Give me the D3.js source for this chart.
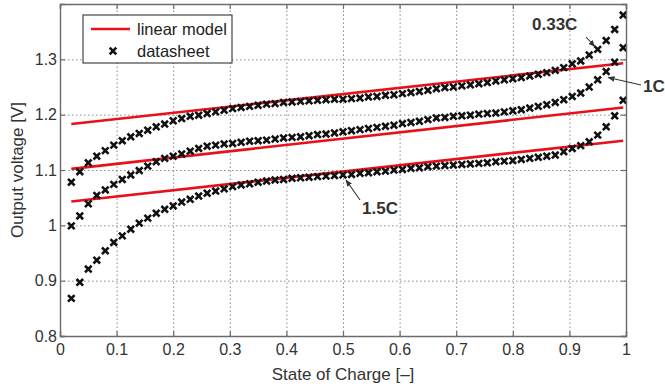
<!DOCTYPE html>
<html>
<head>
<meta charset="utf-8">
<script src="https://cdn.jsdelivr.net/npm/d3@7"></script>
<style>
  body { margin: 0; background: #fff; }
  text { font-family: "Liberation Sans", Arial, Helvetica, sans-serif; }
</style>
</head>
<body>
<div id="chart"></div>
<script>
const WIDTH = 665;
const HEIGHT = 388;
const margin = { top: 4, right: 39, bottom: 52, left: 60 };

// state of charge of each datasheet sample
const soc = [
  0.02, 0.035, 0.05, 0.065, 0.08, 0.095, 0.11, 0.125, 0.14, 0.155,
  0.17, 0.185, 0.2, 0.215, 0.23, 0.245, 0.26, 0.275, 0.29, 0.305,
  0.32, 0.335, 0.35, 0.365, 0.38, 0.395, 0.41, 0.425, 0.44, 0.455,
  0.47, 0.485, 0.5, 0.515, 0.53, 0.545, 0.56, 0.575, 0.59, 0.605,
  0.62, 0.635, 0.65, 0.665, 0.68, 0.695, 0.71, 0.725, 0.74, 0.755,
  0.77, 0.785, 0.8, 0.815, 0.83, 0.845, 0.86, 0.875, 0.89, 0.905,
  0.92, 0.935, 0.95, 0.965, 0.98, 0.995,
];

// datasheet voltages
const v033C = [
  1.078, 1.097, 1.113, 1.125, 1.135, 1.145, 1.153, 1.16, 1.166, 1.172,
  1.178, 1.183, 1.189, 1.193, 1.197, 1.199, 1.202, 1.205, 1.208, 1.211,
  1.213, 1.215, 1.217, 1.219, 1.22, 1.222, 1.223, 1.224, 1.225, 1.226,
  1.227, 1.228, 1.228, 1.229, 1.23, 1.232, 1.233, 1.235, 1.236, 1.238,
  1.24, 1.242, 1.244, 1.247, 1.249, 1.25, 1.252, 1.254, 1.256, 1.258,
  1.261, 1.263, 1.265, 1.267, 1.27, 1.273, 1.276, 1.28, 1.285, 1.292,
  1.297, 1.308, 1.318, 1.334, 1.354, 1.38,
];
const v1C = [
  0.999, 1.017, 1.039, 1.054, 1.064, 1.074, 1.083, 1.091, 1.099, 1.107,
  1.115, 1.121, 1.125, 1.129, 1.134, 1.139, 1.143, 1.145, 1.147, 1.148,
  1.15, 1.152, 1.153, 1.154, 1.156, 1.158, 1.159, 1.16, 1.162, 1.164,
  1.165, 1.167, 1.169, 1.171, 1.173, 1.175, 1.177, 1.179, 1.181, 1.184,
  1.186, 1.188, 1.191, 1.194, 1.195, 1.197, 1.198, 1.199, 1.201, 1.202,
  1.203, 1.205, 1.207, 1.209, 1.212, 1.215, 1.218, 1.222, 1.227, 1.233,
  1.239, 1.25, 1.263, 1.278, 1.295, 1.321,
];
const v15C = [
  0.868, 0.897, 0.921, 0.937, 0.954, 0.969, 0.981, 0.993, 1.004, 1.013,
  1.022, 1.029, 1.035, 1.042, 1.047, 1.053, 1.058, 1.062, 1.066, 1.07,
  1.073, 1.075, 1.078, 1.08, 1.082, 1.083, 1.085, 1.086, 1.087, 1.088,
  1.089, 1.09, 1.091, 1.092, 1.094, 1.095, 1.097, 1.098, 1.1, 1.101,
  1.103, 1.104, 1.106, 1.107, 1.108, 1.109, 1.11, 1.111, 1.112, 1.113,
  1.115, 1.116, 1.117, 1.119, 1.121, 1.123, 1.125, 1.127, 1.133, 1.139,
  1.144, 1.151, 1.163, 1.178, 1.198, 1.226,
];

// linear model end points [soc, voltage]
const modelSoc = [0.02, 0.995];
const model033C = [1.183, 1.293];
const model1C = [1.102, 1.213];
const model15C = [1.043, 1.153];

const xTicks = [0, 0.1, 0.2, 0.3, 0.4, 0.5, 0.6, 0.7, 0.8, 0.9, 1];
const yTicks = [0.8, 0.9, 1, 1.1, 1.2, 1.3];

const series = [
  { name: "0.33C", values: v033C, model: model033C },
  { name: "1C", values: v1C, model: model1C },
  { name: "1.5C", values: v15C, model: model15C },
];

// which sample each label points at, and where the label sits
const annotations = [
  { text: "0.33C", serie: 0, index: 62, tx: 532, ty: 24, anchor: "start", tail: [586, 37], off: [-3, -3] },
  { text: "1C", serie: 1, index: 63, tx: 643, ty: 86, anchor: "start", tail: [641, 85], off: [2, 6] },
  { text: "1.5C", serie: 2, index: 32, tx: 362, ty: 208, anchor: "start", tail: [360, 200], off: [3, 5] },
];

const plotW = WIDTH - margin.left - margin.right;
const plotH = HEIGHT - margin.top - margin.bottom;

const x = d3.scaleLinear().domain([0, 1]).range([0, plotW]);
const y = d3.scaleLinear().domain([0.8, 1.4]).range([plotH, 0]);

const svg = d3
  .select("#chart")
  .append("svg")
  .attr("width", WIDTH)
  .attr("height", HEIGHT);

svg
  .append("defs")
  .append("marker")
  .attr("id", "arrow")
  .attr("viewBox", "0 0 10 10")
  .attr("refX", 9)
  .attr("refY", 5)
  .attr("markerWidth", 7)
  .attr("markerHeight", 7)
  .attr("markerUnits", "userSpaceOnUse")
  .attr("orient", "auto")
  .append("path")
  .attr("d", "M0,1L10,5L0,9Z")
  .style("fill", "#333");

const g = svg
  .append("g")
  .attr("transform", `translate(${margin.left},${margin.top})`);

// grid
g.append("g")
  .attr("class", "grid")
  .attr("transform", `translate(0,${plotH})`)
  .call(d3.axisBottom(x).tickValues(xTicks.slice(1, -1)).tickSize(-plotH).tickFormat(""));
g.append("g")
  .attr("class", "grid")
  .call(d3.axisLeft(y).tickValues(yTicks.slice(1)).tickSize(-plotW).tickFormat(""));
g.selectAll(".grid .domain").remove();
g.selectAll(".grid line")
  .style("stroke", "#8a8a8a")
  .style("stroke-width", 1)
  .style("stroke-dasharray", "1.5,2.5");

// linear models
const line = d3
  .line()
  .x((d) => x(d[0]))
  .y((d) => y(d[1]));

g.selectAll("path.model")
  .data(series)
  .enter()
  .append("path")
  .attr("class", "model")
  .attr("d", (d) => line(modelSoc.map((s, i) => [s, d.model[i]])))
  .style("fill", "none")
  .style("stroke", "#e8101a")
  .style("stroke-width", 2.6);

// datasheet crosses
const cross = "M-3.3,-3.3L3.3,3.3M-3.3,3.3L3.3,-3.3";
series.forEach((s) => {
  g.selectAll(null)
    .data(soc.map((v, i) => [v, s.values[i]]))
    .enter()
    .append("path")
    .attr("class", "point")
    .attr("d", cross)
    .attr("transform", (d) => `translate(${x(d[0])},${y(d[1])})`)
    .style("stroke", "#111")
    .style("stroke-width", 2.6)
    .style("fill", "none");
});

// axes with inner ticks on all four sides
const xAxis = g
  .append("g")
  .attr("transform", `translate(0,${plotH})`)
  .call(d3.axisBottom(x).tickValues(xTicks).tickSize(-5).tickPadding(8).tickFormat(d3.format("")));
const yAxis = g
  .append("g")
  .call(d3.axisLeft(y).tickValues(yTicks).tickSize(-5).tickPadding(3).tickFormat(d3.format("")));
const topAxis = g
  .append("g")
  .call(d3.axisTop(x).tickValues(xTicks).tickSize(-5).tickFormat(""));
const rightAxis = g
  .append("g")
  .attr("transform", `translate(${plotW},0)`)
  .call(d3.axisRight(y).tickValues(yTicks).tickSize(-5).tickFormat(""));

[xAxis, yAxis, topAxis, rightAxis].forEach((a) => {
  a.select(".domain").style("stroke", "#6b6b6b").style("stroke-width", 1.4);
  a.selectAll(".tick line").style("stroke", "#6b6b6b").style("stroke-width", 1.2);
  a.selectAll("text").style("font-size", "16px").style("fill", "#333");
});

svg
  .append("text")
  .attr("x", margin.left + plotW / 2)
  .attr("y", 380)
  .attr("text-anchor", "middle")
  .style("font-size", "17px")
  .style("fill", "#333")
  .text("State of Charge [–]");

svg
  .append("text")
  .attr("transform", `translate(23,${margin.top + 166}) rotate(-90)`)
  .attr("text-anchor", "middle")
  .style("font-size", "17px")
  .style("fill", "#333")
  .text("Output voltage [V]");

// annotations
annotations.forEach((a) => {
  const s = series[a.serie];
  const px = x(soc[a.index]) + margin.left + a.off[0];
  const py = y(s.values[a.index]) + margin.top + a.off[1];
  svg
    .append("line")
    .attr("x1", a.tail[0])
    .attr("y1", a.tail[1])
    .attr("x2", px)
    .attr("y2", py)
    .attr("marker-end", "url(#arrow)")
    .style("stroke", "#333")
    .style("stroke-width", 1.1);
  svg
    .append("text")
    .attr("x", a.tx)
    .attr("y", a.ty)
    .attr("dy", "0.35em")
    .attr("text-anchor", a.anchor)
    .style("font-size", "17px")
    .style("font-weight", "bold")
    .style("fill", "#333")
    .text(a.text);
});

// legend
const legend = svg.append("g").attr("transform", "translate(83,15)");
legend
  .append("rect")
  .attr("width", 149)
  .attr("height", 48)
  .style("fill", "#fff")
  .style("stroke", "#333")
  .style("stroke-width", 1.1);
legend
  .append("line")
  .attr("x1", 8)
  .attr("x2", 47)
  .attr("y1", 14)
  .attr("y2", 14)
  .style("stroke", "#e8101a")
  .style("stroke-width", 2.6);
legend
  .append("path")
  .attr("d", cross)
  .attr("transform", "translate(30,36)")
  .style("stroke", "#111")
  .style("stroke-width", 2.6);
legend
  .selectAll("text.leg")
  .data(["linear model", "datasheet"])
  .enter()
  .append("text")
  .attr("class", "leg")
  .attr("x", 54)
  .attr("y", (d, i) => 14 + i * 22)
  .attr("dy", "0.35em")
  .style("font-size", "16.5px")
  .style("fill", "#222")
  .text((d) => d);
</script>
</body>
</html>
